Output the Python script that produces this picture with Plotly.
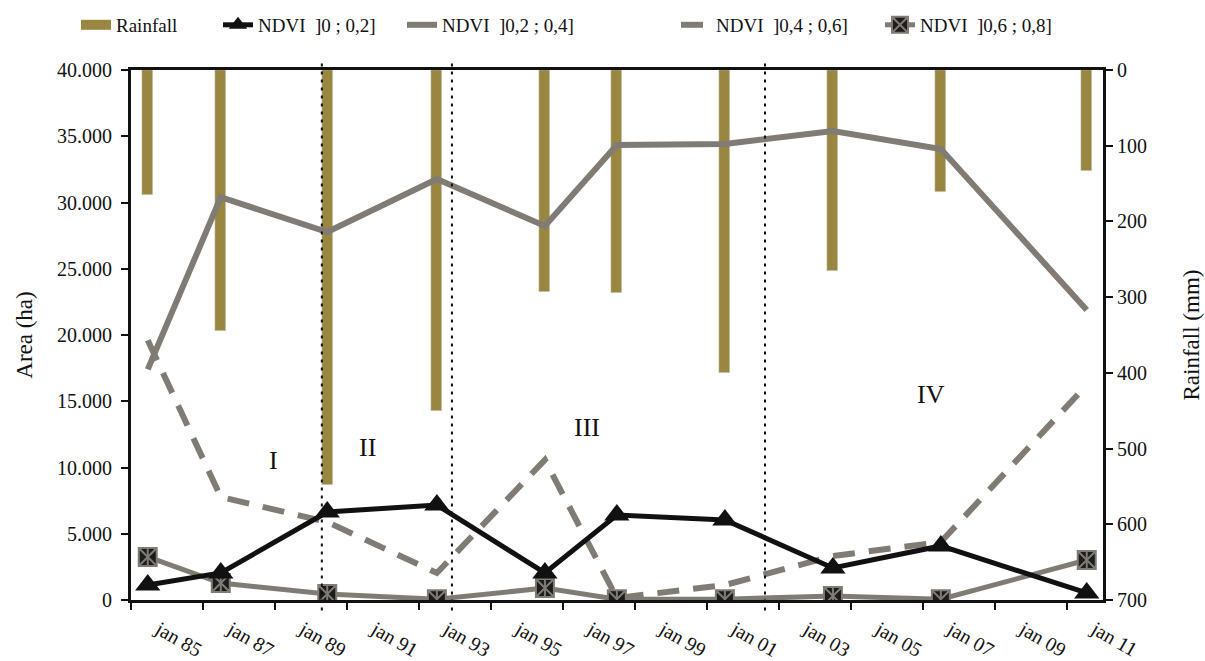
import plotly.graph_objects as go

# ---- data ----
dates = ["1985-06-20", "1987-07-01", "1990-06-15", "1993-07-01", "1996-07-01",
         "1998-07-01", "2001-07-01", "2004-07-01", "2007-07-01", "2011-07-20"]
rainfall = [165, 345, 548, 450, 293, 295, 400, 266, 161, 133]
ndvi_0_02 = [1130, 2040, 6640, 7170, 2040, 6420, 6040, 2420, 4080, 530]
ndvi_02_04 = [17400, 30400, 27770, 31770, 28230, 34340, 34420, 35400, 34040, 21890]
ndvi_04_06 = [19600, 7770, 5890, 2040, 10570, 150, 1130, 3320, 4380, 16230]
ndvi_06_08 = [3250, 1280, 450, 60, 900, 60, 60, 300, 60, 3020]
tick_dates = ["%d-01-01" % y for y in range(1985, 2012, 2)]
tick_labels = ["jan 85", "jan 87", "jan 89", "jan 91", "jan 93", "jan 95", "jan 97",
               "jan 99", "jan 01", "jan 03", "jan 05", "jan 07", "jan 09", "jan 11"]
period_breaks = ["1990-04-21", "1993-12-01", "2002-08-12"]
period_labels = ["I", "II", "III", "IV"]
period_pos = [(0.140, 0.232), (0.232, 0.257), (0.469, 0.295), (0.840, 0.387)]

FONT = "Liberation Serif"
GRAY = "#807c75"
OLIVE = "#988641"
BLACK = "#111111"
NB = "\u00a0"

PLOT_L, PLOT_W = 131, 972
legend_px = [76, 218, 402, 676, 880]   # left edge of each legend (pixels)

fig = go.Figure()

bar_width_ms = 0.305 * 365.25 * 86400000
fig.add_trace(go.Bar(x=dates, y=rainfall, name="Rainfall", marker_color=OLIVE,
                     width=bar_width_ms, yaxis="y", showlegend=False))
# legend entry for rainfall (wide swatch)
fig.add_trace(go.Scatter(x=[None], y=[None], name="Rainfall", mode="lines", yaxis="y",
                         line=dict(color=OLIVE, width=14), legend="legend"))

fig.add_trace(go.Scatter(x=dates, y=ndvi_02_04, name="NDVI" + NB * 2 + "]0,2 ; 0,4]",
                         mode="lines", yaxis="y2", legend="legend3",
                         line=dict(color=GRAY, width=6)))
fig.add_trace(go.Scatter(x=dates, y=ndvi_04_06, name="NDVI" + NB * 2 + "]0,4 ; 0,6]",
                         mode="lines", yaxis="y2", legend="legend4",
                         line=dict(color=GRAY, width=6, dash="22px,14px")))
fig.add_trace(go.Scatter(x=dates, y=ndvi_06_08, name="NDVI" + NB * 2 + "]0,6 ; 0,8]",
                         mode="lines+markers", yaxis="y2", legend="legend5",
                         line=dict(color=GRAY, width=5),
                         marker=dict(symbol="square-x", size=18, color="#1c1c1c",
                                     line=dict(color=GRAY, width=2))))
# vertical stroke of the asterisk inside the square markers
fig.add_trace(go.Scatter(x=dates, y=ndvi_06_08, mode="markers", yaxis="y2",
                         showlegend=False, hoverinfo="skip",
                         marker=dict(symbol="line-ns", size=13,
                                     line=dict(color=GRAY, width=2))))
fig.add_trace(go.Scatter(x=dates, y=ndvi_0_02, name="NDVI" + NB * 2 + "]0 ; 0,2]",
                         mode="lines+markers", yaxis="y2", legend="legend2",
                         line=dict(color=BLACK, width=5),
                         marker=dict(symbol="triangle-up", size=22, color=BLACK)))

for d in period_breaks:
    fig.add_shape(type="line", xref="x", yref="paper", x0=d, x1=d, y0=-0.02, y1=1.02,
                  line=dict(color=BLACK, width=2, dash="3px,5px"), layer="above")

for t, (px, py) in zip(period_labels, period_pos):
    fig.add_annotation(text=t, xref="paper", yref="paper", x=px, y=py, showarrow=False,
                       font=dict(family=FONT, size=26, color=BLACK))

legend_common = dict(orientation="h", xanchor="left", y=1.085, yanchor="middle",
                     font=dict(family=FONT, size=19, color=BLACK), itemwidth=30,
                     bgcolor="rgba(0,0,0,0)")
legends = {}
for i, px in enumerate(legend_px):
    key = "legend" if i == 0 else "legend%d" % (i + 1)
    legends[key] = dict(legend_common, x=(px - PLOT_L) / PLOT_W)

fig.update_layout(
    width=1205, height=661,
    margin=dict(l=131, r=102, t=70, b=61, autoexpand=False),
    plot_bgcolor="white", paper_bgcolor="white",
    separators=",.",
    font=dict(family=FONT, size=20, color=BLACK),
    showlegend=True,
    bargap=0,
    xaxis=dict(type="date", range=["1985-01-01", "2012-01-01"],
               tickvals=tick_dates, ticktext=tick_labels, tickangle=30,
               ticks="outside", ticklen=7, tickwidth=2, tickcolor=BLACK,
               showline=True, linewidth=3, linecolor=BLACK, mirror=True,
               showgrid=False, zeroline=False,
               ticklabelshift=28, ticklabelstandoff=0,
               tickfont=dict(family=FONT, size=20)),
    yaxis=dict(range=[700, 0], side="right", dtick=100, tick0=0,
               ticks="outside", ticklen=7, tickwidth=2, tickcolor=BLACK,
               showline=True, linewidth=3, linecolor=BLACK,
               showgrid=False, zeroline=False,
               title=dict(text="Rainfall (mm)", font=dict(family=FONT, size=23), standoff=37)),
    yaxis2=dict(range=[0, 40000], side="left", overlaying="y", dtick=5000, tick0=0,
                tickformat=",d",
                ticks="outside", ticklen=7, tickwidth=2, tickcolor=BLACK,
                showline=True, linewidth=3, linecolor=BLACK,
                showgrid=False, zeroline=False, ticklabelstandoff=5,
                title=dict(text="Area (ha)", font=dict(family=FONT, size=23), standoff=18)),
    **legends,
)

fig.write_html("out.html", config={"displayModeBar": False},
               post_script="document.body.style.margin='0px';document.body.style.overflow='hidden';")
